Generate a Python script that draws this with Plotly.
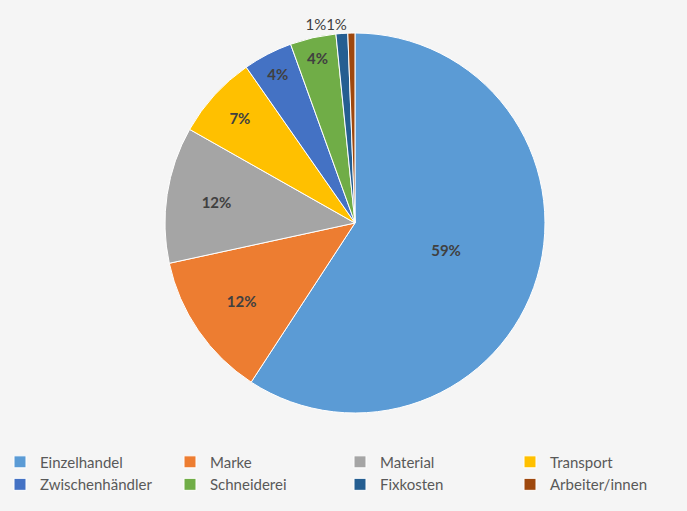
import plotly.graph_objects as go

labels = ["Einzelhandel", "Marke", "Material", "Transport",
          "Zwischenhändler", "Schneiderei", "Fixkosten", "Arbeiter/innen"]
values = [59.2, 12.4, 11.6, 7.1, 4.2, 3.9, 1.0, 0.6]
colors = ["#5B9BD5", "#ED7D31", "#A5A5A5", "#FFC000",
          "#4472C4", "#70AD47", "#255E91", "#9E480E"]

total = sum(values)
pct = [f"{round(v / total * 100)}%" for v in values]
# the two tiny slices share one label line above the pie, as in the reference
texts = pct[:6] + ["", pct[6] + pct[7]]
positions = ["inside"] * 6 + ["outside", "outside"]

fig = go.Figure(go.Pie(
    labels=labels,
    values=values,
    sort=False,
    direction="clockwise",
    rotation=0,
    marker=dict(colors=colors, line=dict(color="white", width=1)),
    text=texts,
    textinfo="text",
    textposition=positions,
    insidetextorientation="horizontal",
    insidetextfont=dict(family="Lato", size=15, color="#404040", weight="bold"),
    outsidetextfont=dict(family="Lato", size=15, color="#404040"),
    domain=dict(x=[0.0334, 1.0], y=[0, 1]),
))

fig.update_layout(
    width=687, height=511,
    margin=dict(l=0, r=0, t=33, b=98, autoexpand=False),
    paper_bgcolor="#f5f5f5",
    plot_bgcolor="#f5f5f5",
    font=dict(family="Lato", color="#595959"),
    legend=dict(
        orientation="h",
        xref="container", yref="container",
        x=0.0, y=0.128, xanchor="left", yanchor="top",
        entrywidth=125, entrywidthmode="pixels",
        font=dict(family="Lato", size=15, color="#595959"),
        traceorder="normal",
        bgcolor="rgba(0,0,0,0)",
    ),
)

fig.write_html("out.html")
